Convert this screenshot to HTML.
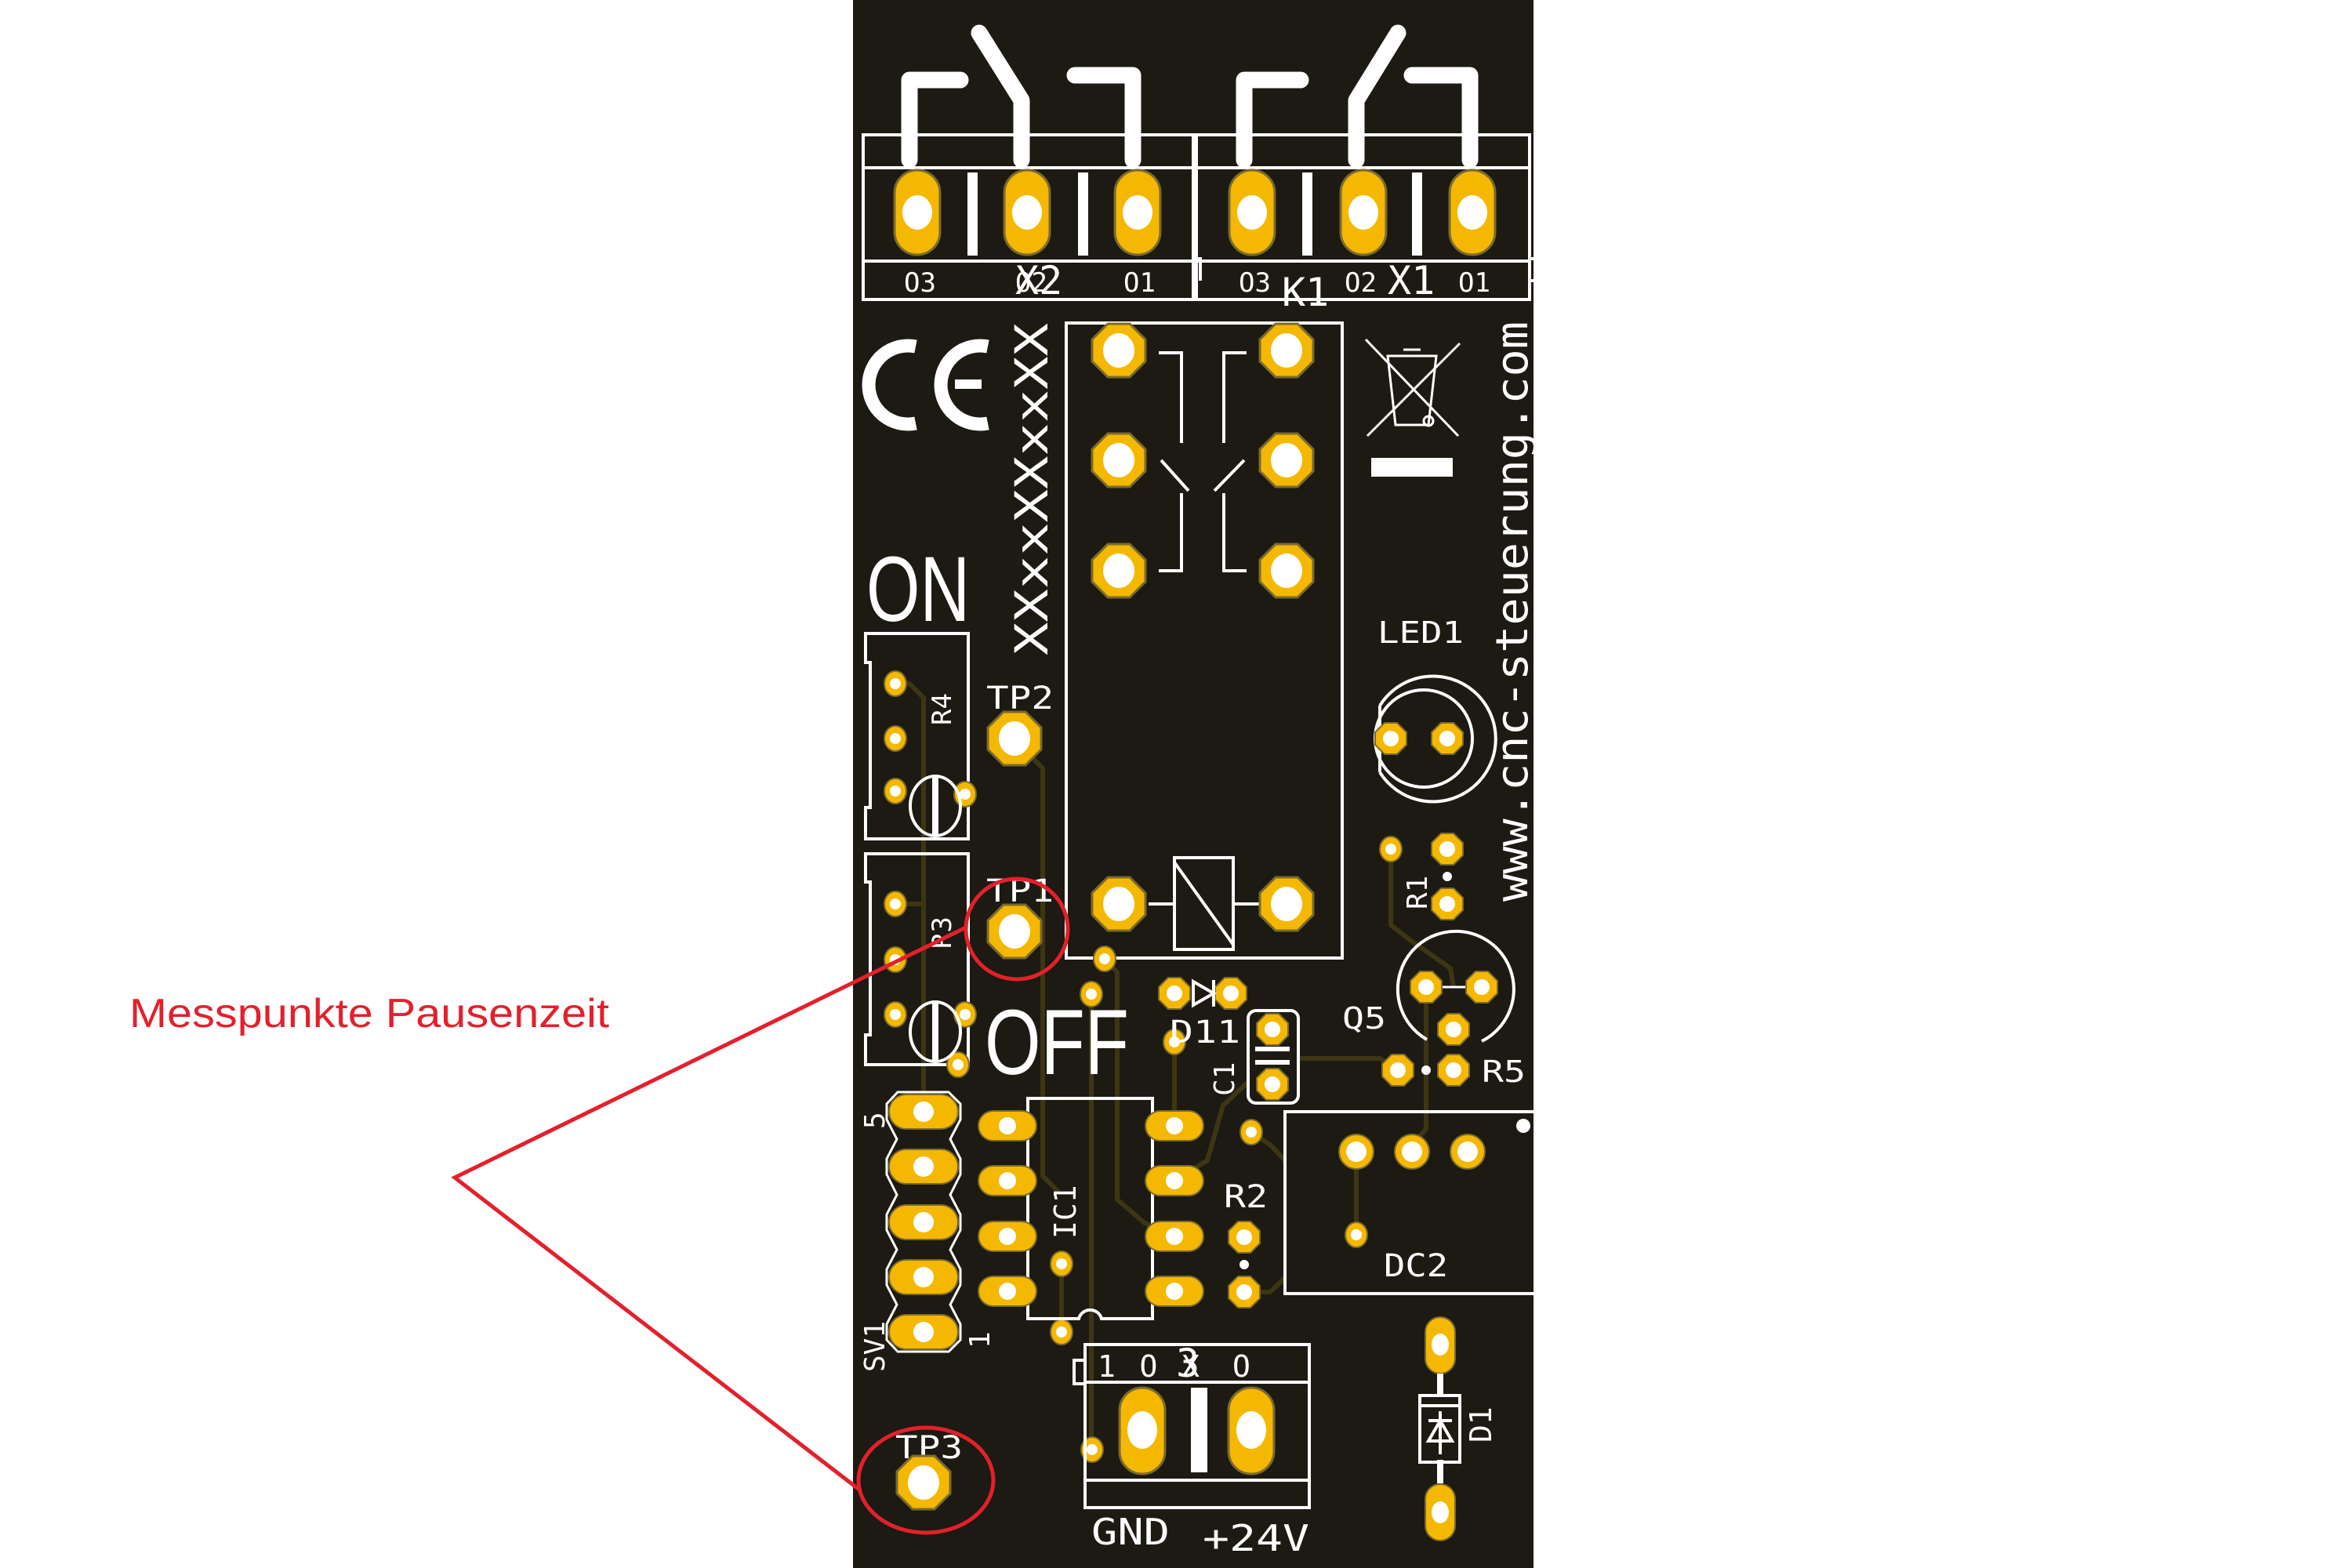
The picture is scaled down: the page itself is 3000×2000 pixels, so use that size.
<!DOCTYPE html>
<html><head><meta charset="utf-8"><style>
html,body{margin:0;padding:0;background:#fff;}
svg{display:block;}
text{font-family:"DejaVu Sans Mono","Liberation Mono",monospace;fill:#fff;}
</style></head><body>
<svg width="3000" height="2000" viewBox="0 0 3000 2000" xmlns="http://www.w3.org/2000/svg">
<defs>
<g id="oct"><polygon points="34,14 14,34 -14,34 -34,14 -34,-14 -14,-34 14,-34 34,-14" fill="#f5b800" stroke="#7a6a30" stroke-width="3"/><ellipse rx="20" ry="22" fill="#fff"/></g>
<g id="sp"><ellipse rx="14" ry="16" fill="#f5b800" stroke="#7a6a30" stroke-width="2"/><circle r="7" fill="#fff"/></g>
<g id="mp"><polygon points="20,8 8,20 -8,20 -20,8 -20,-8 -8,-20 8,-20 20,-8" fill="#f5b800" stroke="#7a6a30" stroke-width="2"/><circle r="10" fill="#fff"/></g>
<g id="tb"><rect x="-29" y="-54" width="58" height="108" rx="29" fill="#f5b800" stroke="#7a6a30" stroke-width="3"/><ellipse rx="19" ry="22" fill="#fff"/></g>
<g id="icp"><rect x="-37" y="-19" width="74" height="38" rx="19" fill="#f5b800" stroke="#7a6a30" stroke-width="2"/><circle r="11" fill="#fff"/></g>
<g id="svp"><rect x="-44" y="-22" width="88" height="44" rx="22" fill="#f5b800" stroke="#7a6a30" stroke-width="2"/><circle r="13" fill="#fff"/></g>
</defs>
<rect x="1088" y="0" width="868" height="2000" fill="#1c1a12"/>

<!-- traces -->
<g stroke="#3d3514" stroke-width="6" fill="none">
<path d="M1142 872 L1160 872 L1178 890 L1178 1400"/>
<path d="M1142 1153 L1178 1153"/>
<path d="M1294 942 L1330 980 L1330 1500 L1350 1520"/>
<path d="M1409 1223 L1425 1240 L1425 1530 L1460 1560 L1498 1577"/>
<path d="M1392 1268 L1392 1849"/>
<path d="M1354 1612 L1354 1699"/>
<path d="M1498 1329 L1498 1436"/>
<path d="M1656 1350 L1760 1350 L1783 1365"/>
<path d="M1774 1083 L1774 1180 L1800 1200 L1850 1235 L1854 1259"/>
<path d="M1819 1259 L1819 1440 L1801 1460"/>
<path d="M1730 1469 L1730 1575"/>
<path d="M1596 1444 L1620 1460 L1639 1480"/>
<path d="M1587 1648 L1620 1648 L1639 1630"/>
<path d="M1498 1506 L1540 1480 L1560 1410 L1592 1380"/>
</g>

<!-- switch symbols -->
<g stroke="#fff" stroke-width="21" fill="none" stroke-linecap="round" stroke-linejoin="round">
<path d="M1160 204 L1160 102 L1225 102"/>
<path d="M1249 42 L1303 128 L1303 204"/>
<path d="M1371 96 L1445 96 L1445 204"/>
<path d="M1587 204 L1587 102 L1659 102"/>
<path d="M1783 42 L1730 128 L1730 204"/>
<path d="M1801 96 L1875 96 L1875 204"/>
</g>

<!-- terminal blocks X2 X1 -->
<g stroke="#fff" stroke-width="4" fill="none">
<rect x="1101" y="172" width="421" height="210"/>
<line x1="1101" y1="214" x2="1522" y2="214"/>
<line x1="1101" y1="333" x2="1522" y2="333"/>
<rect x="1526" y="172" width="425" height="210"/>
<line x1="1526" y1="214" x2="1951" y2="214"/>
<line x1="1526" y1="333" x2="1951" y2="333"/>
<path d="M1951 330 L1958 330 L1958 358 L1951 358"/>
<path d="M1526 330 L1531 330 L1531 358"/>
</g>
<g fill="#fff">
<rect x="1234" y="220" width="13" height="106"/><rect x="1375" y="220" width="13" height="106"/>
<rect x="1661" y="220" width="13" height="106"/><rect x="1801" y="220" width="13" height="106"/>
</g>
<use href="#tb" x="1170" y="271"/><use href="#tb" x="1310" y="271"/><use href="#tb" x="1451" y="271"/>
<use href="#tb" x="1597" y="271"/><use href="#tb" x="1739" y="271"/><use href="#tb" x="1878" y="271"/>
<g font-size="34">
<text x="1153" y="372">O3</text><text x="1433" y="372">O1</text>
<text x="1580" y="372">O3</text><text x="1715" y="372">O2</text><text x="1860" y="372">O1</text>
<text x="1295" y="375" font-size="50">X2</text>
<text x="1635" y="390" font-size="50">K1</text>
<text x="1770" y="375" font-size="50">X1</text>
<text x="1295" y="372" font-size="34">O2</text>
</g>

<!-- CE -->
<g stroke="#fff" stroke-width="17" fill="none">
<path d="M1168 442 A50 50 0 1 0 1168 540"/>
<path d="M1260 442 A50 50 0 1 0 1260 540"/>
</g>
<rect x="1218" y="484" width="34" height="12" fill="#fff"/>

<!-- XXxx vertical -->
<text transform="translate(1336 836) rotate(-90)" font-size="58" textLength="424" lengthAdjust="spacingAndGlyphs">XXxxXXxxXX</text>

<!-- relay -->
<rect x="1360" y="412" width="352" height="810" fill="none" stroke="#fff" stroke-width="4"/>
<g stroke="#fff" stroke-width="4" fill="none">
<path d="M1478 450 L1507 450 L1507 565"/>
<path d="M1481 587 L1516 626"/>
<path d="M1507 629 L1507 728 L1478 728"/>
<path d="M1590 450 L1561 450 L1561 565"/>
<path d="M1587 587 L1549 626"/>
<path d="M1561 629 L1561 728 L1590 728"/>
<rect x="1498" y="1094" width="75" height="117"/>
<path d="M1498 1100 L1573 1205"/>
<path d="M1465 1153 L1498 1153 M1573 1153 L1606 1153"/>
</g>
<use href="#oct" x="1427" y="447"/><use href="#oct" x="1641" y="447"/>
<use href="#oct" x="1427" y="587"/><use href="#oct" x="1641" y="587"/>
<use href="#oct" x="1427" y="728"/><use href="#oct" x="1641" y="728"/>
<use href="#oct" x="1427" y="1153"/><use href="#oct" x="1641" y="1153"/>

<!-- recycle bin -->
<g stroke="#fff" stroke-width="3" fill="none">
<path d="M1742 433 L1860 556 M1862 438 L1744 556"/>
<path d="M1770 454 L1832 454 L1822 542 L1780 542 Z"/>
<path d="M1790 446 L1812 446"/>
<circle cx="1822" cy="537" r="6"/>
</g>
<rect x="1749" y="584" width="104" height="24" fill="#fff"/>

<!-- website -->
<text transform="translate(1948 1150) rotate(-90)" font-size="56" textLength="740" lengthAdjust="spacingAndGlyphs">www.cnc-steuerung.com</text>

<!-- ON / OFF -->
<text x="1105" y="792" font-family="Liberation Sans, sans-serif" font-size="118" textLength="132" lengthAdjust="spacingAndGlyphs" style="font-family:'Liberation Sans',sans-serif">ON</text>
<text x="1256" y="1370" font-size="118" textLength="184" lengthAdjust="spacingAndGlyphs" style="font-family:'Liberation Sans',sans-serif">OFF</text>

<!-- LED -->
<text x="1757" y="820" font-size="38" textLength="110" lengthAdjust="spacingAndGlyphs">LED1</text>
<path d="M1760 900 A80 80 0 1 1 1760 985" stroke="#fff" stroke-width="4" fill="none"/>
<path d="M1760 900 L1760 985" stroke="#fff" stroke-width="4"/>
<circle cx="1816" cy="942" r="62" stroke="#fff" stroke-width="4" fill="none"/>
<use href="#mp" x="1774" y="942"/><use href="#mp" x="1846" y="942"/>

<!-- R4 -->
<path d="M1104 808 L1235 808 L1235 1070 L1104 1070 L1104 1030 L1110 1030 L1110 845 L1104 845 Z" fill="none" stroke="#fff" stroke-width="4"/>
<use href="#sp" x="1142" y="872"/><use href="#sp" x="1142" y="942"/><use href="#sp" x="1142" y="1009"/>
<use href="#sp" x="1231" y="1013"/>
<ellipse cx="1193" cy="1028" rx="32" ry="38" fill="none" stroke="#fff" stroke-width="4"/>
<rect x="1189" y="990" width="8" height="76" fill="#fff"/>
<text transform="translate(1213 925) rotate(-90)" font-size="34">R4</text>
<!-- R3 -->
<path d="M1104 1089 L1235 1089 L1235 1358 L1104 1358 L1104 1320 L1110 1320 L1110 1125 L1104 1125 Z" fill="none" stroke="#fff" stroke-width="4"/>
<use href="#sp" x="1142" y="1153"/><use href="#sp" x="1142" y="1224"/><use href="#sp" x="1142" y="1294"/>
<use href="#sp" x="1231" y="1294"/><use href="#sp" x="1222" y="1358"/>
<ellipse cx="1193" cy="1316" rx="32" ry="38" fill="none" stroke="#fff" stroke-width="4"/>
<rect x="1189" y="1278" width="8" height="76" fill="#fff"/>
<text transform="translate(1213 1210) rotate(-90)" font-size="34">R3</text>

<!-- TPs -->
<text x="1258" y="904" font-size="40" textLength="86" lengthAdjust="spacingAndGlyphs">TP2</text>
<use href="#oct" x="1294" y="942"/>
<text x="1258" y="1150" font-size="40" textLength="86" lengthAdjust="spacingAndGlyphs">TP1</text>
<use href="#oct" x="1294" y="1188"/>
<text x="1142" y="1860" font-size="40" textLength="86" lengthAdjust="spacingAndGlyphs">TP3</text>
<use href="#oct" x="1178" y="1891"/>

<!-- misc small pads -->
<use href="#sp" x="1409" y="1223"/><use href="#sp" x="1392" y="1268"/><use href="#sp" x="1498" y="1329"/>
<use href="#sp" x="1354" y="1612"/><use href="#sp" x="1354" y="1699"/><use href="#sp" x="1596" y="1444"/>
<use href="#sp" x="1774" y="1083"/><use href="#sp" x="1730" y="1575"/><use href="#sp" x="1393" y="1849"/>

<!-- D11 -->
<use href="#mp" x="1498" y="1267"/><use href="#mp" x="1570" y="1267"/>
<path d="M1522 1252 L1548 1267 L1522 1282 Z" fill="none" stroke="#fff" stroke-width="4"/>
<line x1="1548" y1="1250" x2="1548" y2="1284" stroke="#fff" stroke-width="4"/>
<text x="1492" y="1330" font-size="40" textLength="90" lengthAdjust="spacingAndGlyphs">D11</text>
<!-- C1 -->
<rect x="1592" y="1289" width="64" height="118" rx="10" fill="none" stroke="#fff" stroke-width="4"/>
<use href="#mp" x="1623" y="1313"/><use href="#mp" x="1623" y="1383"/>
<rect x="1601" y="1335" width="44" height="6" fill="#fff"/><rect x="1601" y="1352" width="44" height="6" fill="#fff"/>
<text transform="translate(1574 1398) rotate(-90)" font-size="36">C1</text>

<!-- Q5 / R1 / R5 -->
<path d="M1820 1326 A74 74 0 1 1 1890 1328" fill="none" stroke="#fff" stroke-width="4"/>
<line x1="1838" y1="1259" x2="1872" y2="1259" stroke="#fff" stroke-width="3"/>
<use href="#mp" x="1819" y="1259"/><use href="#mp" x="1890" y="1259"/><use href="#mp" x="1854" y="1313"/>
<text x="1712" y="1312" font-size="38" textLength="56" lengthAdjust="spacingAndGlyphs">Q5</text>
<use href="#mp" x="1846" y="1083"/><use href="#mp" x="1846" y="1153"/>
<circle cx="1846" cy="1118" r="6" fill="#fff"/>
<text transform="translate(1820 1160) rotate(-90)" font-size="36">R1</text>
<use href="#mp" x="1783" y="1365"/><use href="#mp" x="1854" y="1365"/>
<circle cx="1819" cy="1365" r="6" fill="#fff"/>
<text x="1890" y="1380" font-size="38" textLength="56" lengthAdjust="spacingAndGlyphs">R5</text>

<!-- DC2 -->
<rect x="1639" y="1418" width="324" height="232" fill="none" stroke="#fff" stroke-width="4"/>
<circle cx="1943" cy="1436" r="9" fill="#fff"/>
<g><circle cx="1730" cy="1469" r="22" fill="#f5b800" stroke="#7a6a30" stroke-width="2"/><circle cx="1730" cy="1469" r="13" fill="#fff"/>
<circle cx="1801" cy="1469" r="22" fill="#f5b800" stroke="#7a6a30" stroke-width="2"/><circle cx="1801" cy="1469" r="13" fill="#fff"/>
<circle cx="1872" cy="1469" r="22" fill="#f5b800" stroke="#7a6a30" stroke-width="2"/><circle cx="1872" cy="1469" r="13" fill="#fff"/></g>
<text x="1765" y="1628" font-size="40" textLength="82" lengthAdjust="spacingAndGlyphs">DC2</text>

<!-- IC1 -->
<path d="M1311 1401 L1470 1401 L1470 1682 L1405 1682 A15 15 0 0 0 1376 1682 L1311 1682 Z" fill="none" stroke="#fff" stroke-width="4"/>
<use href="#icp" x="1285" y="1436"/><use href="#icp" x="1285" y="1506"/><use href="#icp" x="1285" y="1577"/><use href="#icp" x="1285" y="1647"/>
<use href="#icp" x="1498" y="1436"/><use href="#icp" x="1498" y="1506"/><use href="#icp" x="1498" y="1577"/><use href="#icp" x="1498" y="1647"/>
<text transform="translate(1372 1580) rotate(-90)" font-size="38">IC1</text>
<!-- R2 -->
<text x="1561" y="1540" font-size="40" textLength="56" lengthAdjust="spacingAndGlyphs">R2</text>
<use href="#mp" x="1587" y="1578"/><use href="#mp" x="1587" y="1648"/>
<circle cx="1587" cy="1613" r="6" fill="#fff"/>

<!-- SV1 -->
<path d="M1145 1393 L1210 1393 L1225 1408 L1225 1428 L1212 1453 L1225 1478 L1225 1498 L1212 1524 L1225 1549 L1225 1569 L1212 1594 L1225 1619 L1225 1639 L1212 1664 L1225 1689 L1225 1709 L1210 1724 L1145 1724 L1131 1709 L1131 1689 L1144 1664 L1131 1639 L1131 1619 L1144 1594 L1131 1569 L1131 1549 L1144 1524 L1131 1498 L1131 1478 L1144 1453 L1131 1428 L1131 1408 Z" fill="none" stroke="#fff" stroke-width="3"/>
<use href="#svp" x="1178" y="1418"/><use href="#svp" x="1178" y="1488"/><use href="#svp" x="1178" y="1559"/><use href="#svp" x="1178" y="1629"/><use href="#svp" x="1178" y="1699"/>
<text transform="translate(1128 1440) rotate(-90)" font-size="36">5</text>
<text transform="translate(1128 1750) rotate(-90)" font-size="36">SV1</text>
<text transform="translate(1262 1720) rotate(-90)" font-size="36">1</text>

<!-- X3 -->
<rect x="1384" y="1715" width="286" height="208" fill="none" stroke="#fff" stroke-width="4"/>
<line x1="1384" y1="1763" x2="1670" y2="1763" stroke="#fff" stroke-width="4"/>
<line x1="1384" y1="1888" x2="1670" y2="1888" stroke="#fff" stroke-width="4"/>
<path d="M1384 1735 L1370 1735 L1370 1765 L1384 1765" fill="none" stroke="#fff" stroke-width="4"/>
<rect x="1519" y="1770" width="21" height="108" fill="#fff"/>
<g><rect x="1428" y="1770" width="58" height="110" rx="29" fill="#f5b800" stroke="#7a6a30" stroke-width="3"/><ellipse cx="1457" cy="1824" rx="19" ry="24" fill="#fff"/>
<rect x="1567" y="1770" width="58" height="110" rx="29" fill="#f5b800" stroke="#7a6a30" stroke-width="3"/><ellipse cx="1596" cy="1824" rx="19" ry="24" fill="#fff"/></g>
<text x="1400" y="1756" font-size="38" textLength="130" lengthAdjust="spacing">1 O X</text>
<text x="1500" y="1756" font-size="50">3</text>
<text x="1572" y="1756" font-size="38">O</text>
<text x="1392" y="1970" font-size="46" textLength="100" lengthAdjust="spacingAndGlyphs">GND</text>
<text x="1534" y="1978" font-size="46" textLength="136" lengthAdjust="spacingAndGlyphs">+24V</text>

<!-- D1 -->
<rect x="1818" y="1680" width="38" height="72" rx="19" fill="#f5b800" stroke="#7a6a30" stroke-width="2"/><ellipse cx="1837" cy="1715" rx="11" ry="14" fill="#fff"/>
<rect x="1818" y="1893" width="38" height="72" rx="19" fill="#f5b800" stroke="#7a6a30" stroke-width="2"/><ellipse cx="1837" cy="1929" rx="11" ry="14" fill="#fff"/>
<rect x="1833" y="1752" width="8" height="30" fill="#fff"/><rect x="1833" y="1862" width="8" height="30" fill="#fff"/>
<rect x="1811" y="1780" width="51" height="85" fill="none" stroke="#fff" stroke-width="4"/>
<line x1="1811" y1="1793" x2="1862" y2="1793" stroke="#fff" stroke-width="4"/>
<path d="M1822 1838 L1852 1838 L1837 1812 Z M1822 1812 L1852 1812" fill="none" stroke="#fff" stroke-width="4"/>
<line x1="1837" y1="1800" x2="1837" y2="1855" stroke="#fff" stroke-width="4"/>
<text transform="translate(1902 1840) rotate(-90)" font-size="38">D1</text>

<!-- annotation -->
<g stroke="#e3202c" stroke-width="5" fill="none">
<ellipse cx="1297" cy="1185" rx="65" ry="64"/>
<ellipse cx="1181" cy="1888" rx="86" ry="67"/>
<path d="M1232 1183 L580 1502 L1096 1900"/>
</g>
<text x="165" y="1310" font-size="52" fill="#e3202c" textLength="612" lengthAdjust="spacingAndGlyphs" style="font-family:'Liberation Sans',sans-serif;fill:#e3202c">Messpunkte Pausenzeit</text>
</svg>
</body></html>
